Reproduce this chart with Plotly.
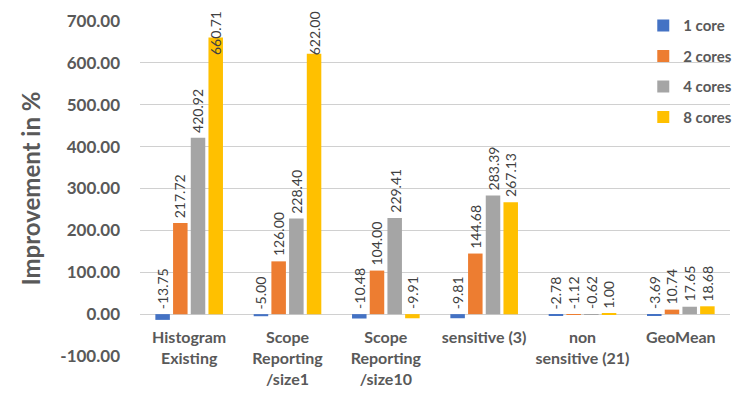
import plotly.graph_objects as go

# -------------------------------------------------
# Data
# -------------------------------------------------
CATEGORIES = [
    "Histogram<br>Existing",
    "Scope<br>Reporting<br>/size1",
    "Scope<br>Reporting<br>/size10",
    "sensitive (3)",
    "non<br>sensitive (21)",
    "GeoMean",
]
SERIES = ["1 core", "2 cores", "4 cores", "8 cores"]
CORE_1 = [-13.75, -5.00, -10.48, -9.81, -2.78, -3.69]
CORE_2 = [217.72, 126.00, 104.00, 144.68, -1.12, 10.74]
CORE_4 = [420.92, 228.40, 229.41, 283.39, -0.62, 17.65]
CORE_8 = [660.71, 622.00, -9.91, 267.13, 1.00, 18.68]
Y_TICKS = [-100, 0, 100, 200, 300, 400, 500, 600, 700]

# -------------------------------------------------
# Style
# -------------------------------------------------
COLORS = ["#4472C4", "#ED7D31", "#A5A5A5", "#FFC000"]
FONT = "Lato, 'Open Sans', sans-serif"
GREY = "#595959"
BARGAP = 0.28
BARGROUPGAP = 0.18
Y_MIN, Y_MAX = -100, 700

fig = go.Figure()
xs = list(range(len(CATEGORIES)))
all_series = [CORE_1, CORE_2, CORE_4, CORE_8]

for k, (name, vals) in enumerate(zip(SERIES, all_series)):
    fig.add_trace(go.Bar(
        x=xs, y=vals, name=name, legendgroup=name,
        marker=dict(color=COLORS[k], line=dict(width=0)),
    ))

# data labels, rotated, sitting above the bar (or above zero for negatives)
group_w = 1 - BARGAP
slot = group_w / len(SERIES)
annotations = []
for k, vals in enumerate(all_series):
    for i, v in enumerate(vals):
        xc = i - group_w / 2 + slot * (k + 0.5)
        ann = dict(
            x=xc, xref="x", text=f"{v:.2f}", textangle=-90, showarrow=False,
            font=dict(family=FONT, size=14, color="#404040"),
            xanchor="center",
        )
        if v > 600:
            # label would leave the chart, pin it to the top
            ann.update(y=1.035, yref="paper", yanchor="top")
        else:
            ann.update(y=max(v, 0), yref="y", yanchor="bottom", yshift=3)
        annotations.append(ann)

# page body has an 8px margin, so the figure is 8px smaller than the window
fig.update_layout(
    width=739, height=393,
    paper_bgcolor="white", plot_bgcolor="white",
    margin=dict(l=132, r=17, t=13, b=45, autoexpand=False),
    barmode="group", bargap=BARGAP, bargroupgap=BARGROUPGAP,
    font=dict(family=FONT, color=GREY),
    annotations=annotations,
    legend=dict(
        x=0.853, y=1.035, xanchor="left", yanchor="top",
        bgcolor="rgba(0,0,0,0)", tracegroupgap=8, itemwidth=30,
        font=dict(family=FONT, size=15, color=GREY, weight="bold"),
    ),
)

fig.update_xaxes(
    range=[-0.5, len(CATEGORIES) - 0.5],
    tickvals=xs, ticktext=CATEGORIES, automargin=False,
    anchor="free", position=(0 - Y_MIN) / (Y_MAX - Y_MIN),
    showgrid=False, showline=False, zeroline=False, ticks="",
    ticklabelstandoff=12,
    tickfont=dict(family=FONT, size=16, color=GREY, weight="bold"),
)
fig.update_yaxes(
    range=[Y_MIN, Y_MAX], tickvals=Y_TICKS,
    ticktext=[f"{t:.2f}" for t in Y_TICKS],
    showgrid=True, gridcolor="#D0D0D0", gridwidth=1, automargin=False,
    zeroline=False, showline=False, ticks="", ticklabelstandoff=19,
    tickfont=dict(family=FONT, size=17, color=GREY, weight="bold"),
    title=dict(text="Improvement in %", standoff=12,
               font=dict(family=FONT, size=24, color=GREY, weight="bold")),
)

fig.write_html("out.html")
